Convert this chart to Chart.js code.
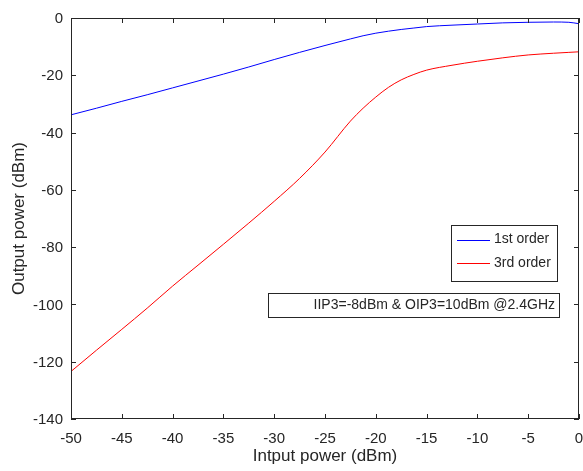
<!DOCTYPE html>
<html>
<head>
<meta charset="utf-8">
<script src="https://cdn.jsdelivr.net/npm/chart.js@4.4.1/dist/chart.umd.min.js"></script>
<style>
  html, body { margin: 0; padding: 0; background: #fff; }
  #wrap { width: 583px; height: 471px; }
</style>
</head>
<body>
<div id="wrap"><canvas id="chart" width="583" height="471"></canvas></div>
<script>
// ---- data ----
const inputPower = [-50, -47.5, -45, -42.5, -40, -37.5, -35, -32.5, -30, -27.5, -25, -22.5, -21.25, -20, -18.75, -17.5, -16.25, -15, -12.5, -10, -7.5, -5, -2.5, -1, 0];
const firstOrder = [-33.8, -31.5, -29.1, -26.8, -24.4, -22.0, -19.6, -17.1, -14.5, -12.0, -9.6, -7.3, -6.2, -5.3, -4.6, -4.0, -3.5, -3.0, -2.5, -2.1, -1.7, -1.5, -1.4, -1.5, -2.0];
const thirdOrder = [-123.4, -116.0, -108.7, -101.3, -93.6, -86.3, -79.0, -71.6, -64.0, -56.0, -46.8, -36.0, -31.5, -27.6, -24.2, -21.6, -19.7, -18.2, -16.5, -15.1, -13.9, -12.9, -12.3, -12.0, -11.8];
const seriesNames = ['1st order', '3rd order'];
const xTitle = 'Intput power (dBm)';
const yTitle = 'Output power (dBm)';
const noteText = 'IIP3=-8dBm & OIP3=10dBm @2.4GHz';

const AXIS = '#262626';
const FONT = 'Arial, "Liberation Sans", Helvetica, sans-serif';

const pts = ys => inputPower.map((x, i) => ({ x, y: ys[i] }));

// box + inward ticks, like a MATLAB axes
const frame = {
  id: 'frame',
  afterDatasetsDraw(chart) {
    const { ctx, chartArea: a, scales: { x, y } } = chart;
    ctx.save();
    ctx.strokeStyle = AXIS;
    ctx.lineWidth = 1;
    ctx.strokeRect(a.left + 0.5, a.top + 0.5, a.right - a.left - 1, a.bottom - a.top - 1);
    ctx.beginPath();
    x.ticks.forEach(t => {
      const px = Math.round(x.getPixelForValue(t.value)) + 0.5;
      ctx.moveTo(px, a.bottom); ctx.lineTo(px, a.bottom - 5);
      ctx.moveTo(px, a.top); ctx.lineTo(px, a.top + 5);
    });
    y.ticks.forEach(t => {
      const py = Math.round(y.getPixelForValue(t.value)) + 0.5;
      ctx.moveTo(a.left, py); ctx.lineTo(a.left + 5, py);
      ctx.moveTo(a.right, py); ctx.lineTo(a.right - 5, py);
    });
    ctx.stroke();
    ctx.restore();
  }
};

// legend box + text annotation
const boxes = {
  id: 'boxes',
  afterDraw(chart) {
    const ctx = chart.ctx;
    ctx.save();
    ctx.lineWidth = 1;
    ctx.strokeStyle = AXIS;
    ctx.fillStyle = '#fff';
    ctx.fillRect(451, 225, 106, 56);
    ctx.strokeRect(451.5, 225.5, 106, 56);
    ctx.font = '14px ' + FONT;
    ctx.textBaseline = 'middle';
    chart.data.datasets.forEach((ds, i) => {
      const yy = 239.5 + i * 23.5;
      ctx.strokeStyle = ds.borderColor;
      ctx.beginPath();
      ctx.moveTo(457, Math.round(yy) + 0.5);
      ctx.lineTo(490, Math.round(yy) + 0.5);
      ctx.stroke();
      ctx.fillStyle = AXIS;
      ctx.textAlign = 'left';
      ctx.fillText(ds.label, 494, yy);
    });
    ctx.strokeStyle = AXIS;
    ctx.fillStyle = '#fff';
    ctx.fillRect(268, 293, 291, 24);
    ctx.strokeRect(268.5, 293.5, 291, 24);
    ctx.fillStyle = AXIS;
    ctx.textAlign = 'right';
    ctx.fillText(noteText, 555, 305.5);
    ctx.restore();
  }
};

new Chart(document.getElementById('chart'), {
  type: 'line',
  data: {
    datasets: [
      { label: seriesNames[0], data: pts(firstOrder), borderColor: '#0000ff', borderWidth: 1, pointRadius: 0, cubicInterpolationMode: 'monotone' },
      { label: seriesNames[1], data: pts(thirdOrder), borderColor: '#ff0000', borderWidth: 1, pointRadius: 0, cubicInterpolationMode: 'monotone' },
    ],
  },
  options: {
    responsive: false,
    animation: false,
    events: [],
    layout: { padding: { top: 18, right: 4, left: 0, bottom: 0 } },
    plugins: { legend: { display: false }, tooltip: { enabled: false } },
    scales: {
      x: {
        type: 'linear', min: -50, max: 0,
        grid: { display: false, drawTicks: false },
        border: { display: false },
        ticks: { stepSize: 5, color: AXIS, font: { family: FONT, size: 15 }, padding: 11, maxRotation: 0 },
        title: { display: true, text: xTitle, color: AXIS, font: { family: FONT, size: 17 }, padding: { top: 0, bottom: 4 } },
        afterFit: s => { s.height = 52; s.paddingLeft = 0; s.paddingRight = 0; },
      },
      y: {
        min: -140, max: 0,
        grid: { display: false, drawTicks: false },
        border: { display: false },
        ticks: { stepSize: 20, color: AXIS, font: { family: FONT, size: 15 }, padding: 8, labelOffset: 1 },
        title: { display: true, text: yTitle, color: AXIS, font: { family: FONT, size: 17 }, padding: { top: 9, bottom: 0 } },
        afterFit: s => { s.width = 71; s.paddingTop = 0; s.paddingBottom = 0; },
      },
    },
  },
  plugins: [frame, boxes],
});
</script>
</body>
</html>
